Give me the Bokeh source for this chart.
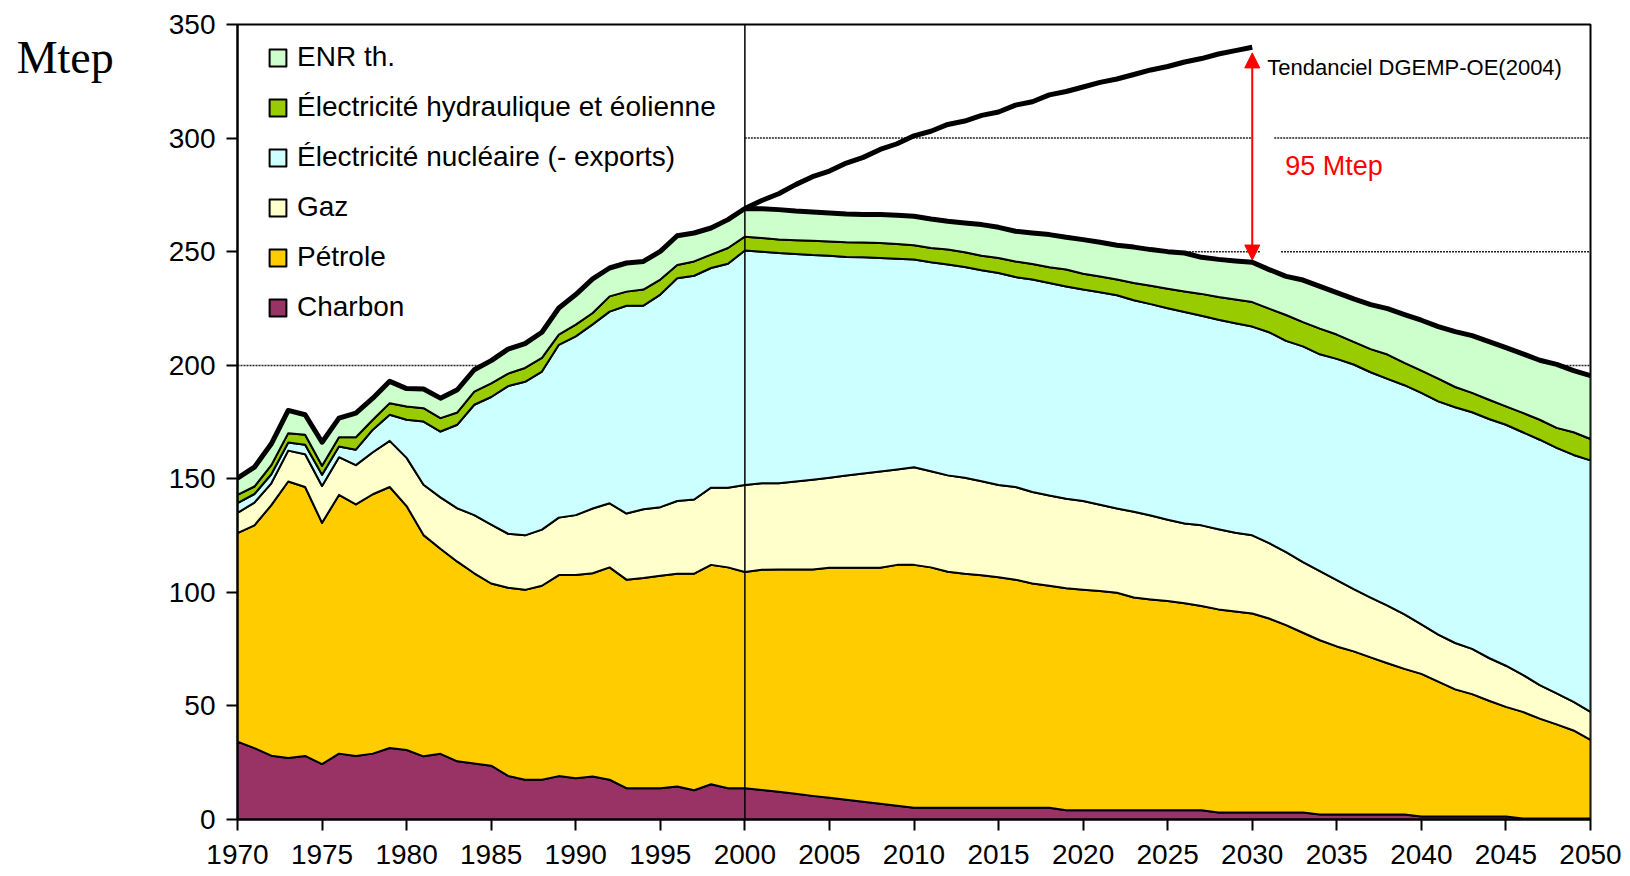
import numpy as np
from bokeh.plotting import figure
from bokeh.models import (Range1d, FixedTicker, Legend, LegendItem, Label, Span,
                          Arrow, NormalHead)
from bokeh.embed import file_html
from bokeh.resources import INLINE

# ---------------- data (Mtep) ----------------
years = list(range(1970, 2051))

charbon = [34.3, 31.4, 28.1, 27.1, 28.0, 24.4, 29.0, 28.0, 29.0, 31.5,
           30.6, 27.8, 28.9, 25.6, 24.7, 23.7, 19.2, 17.5, 17.5, 19.1,
           18.2, 18.9, 17.5, 13.8, 13.8, 13.8, 14.5, 12.9, 15.5, 13.8,
           13.8, 13.0, 12.2, 11.3, 10.4, 9.6, 8.7, 7.8, 6.9, 6.1,
           5.2, 5.2, 5.2, 5.2, 5.2, 5.2, 5.2, 5.2, 5.2, 4.1,
           4.1, 4.1, 4.1, 4.1, 4.1, 4.1, 4.1, 4.1, 3.1, 3.1,
           3.1, 3.1, 3.1, 3.1, 2.2, 2.2, 2.2, 2.2, 2.2, 2.2,
           1.3, 1.3, 1.3, 1.3, 1.3, 1.3, 0.4, 0.4, 0.4, 0.4, 0.4]

petrole = [91.8, 98.1, 110.3, 121.7, 118.4, 106.2, 113.9, 110.7, 114.2, 114.9,
           107.4, 97.4, 90.3, 87.9, 83.7, 80.2, 82.8, 83.6, 85.4, 88.5,
           89.4, 89.5, 93.5, 91.8, 92.5, 93.5, 93.7, 95.3, 96.6, 97.2,
           95.2, 97.0, 97.9, 98.8, 99.7, 101.2, 102.1, 103.0, 103.9, 106.0,
           106.9, 105.8, 103.9, 103.0, 102.3, 101.4, 100.4, 98.7, 97.7, 97.7,
           97.1, 96.5, 95.7, 93.6, 92.8, 92.1, 91.1, 89.9, 89.4, 88.5,
           87.6, 85.4, 82.5, 79.1, 76.7, 74.0, 71.8, 69.2, 66.6, 64.1,
           62.8, 59.4, 56.0, 53.9, 51.0, 48.3, 47.0, 44.0, 41.5, 38.8, 34.7]

gaz = [8.9, 10.0, 9.6, 13.6, 14.4, 16.2, 16.6, 17.3, 18.5, 20.3,
       21.2, 22.2, 22.6, 23.5, 25.6, 25.9, 23.8, 24.0, 24.7, 25.3,
       26.4, 28.5, 28.2, 29.1, 30.3, 30.2, 32.0, 32.7, 34.0, 35.1,
       38.3, 38.0, 37.9, 38.7, 39.5, 39.7, 40.6, 41.5, 42.4, 42.0,
       43.0, 42.3, 42.4, 42.3, 41.4, 40.7, 40.8, 40.3, 39.7, 39.4,
       39.0, 38.0, 37.1, 37.8, 36.9, 35.8, 35.1, 35.5, 35.3, 34.6,
       34.4, 33.2, 32.1, 31.1, 30.4, 29.2, 27.4, 26.3, 25.4, 24.0,
       21.8, 20.7, 20.4, 19.9, 18.8, 18.1, 16.3, 14.8, 13.6, 12.6, 12.3]

nucleaire = [4.3, 3.8, 4.0, 3.6, 4.2, 5.0, 4.7, 6.8, 9.9, 11.5,
             16.8, 27.8, 29.0, 36.8, 48.6, 56.2, 65.0, 67.6, 69.6, 76.1,
             78.7, 81.1, 84.4, 91.5, 89.6, 93.6, 98.1, 98.5, 96.7, 98.6,
             103.2, 102.0, 101.4, 100.2, 98.9, 97.7, 96.2, 95.2, 94.0, 92.8,
             91.4, 92.0, 92.8, 92.7, 92.9, 93.3, 92.4, 93.5, 93.6, 93.5,
             93.1, 93.5, 93.9, 93.1, 93.1, 93.1, 93.1, 92.3, 92.2, 92.3,
             91.9, 92.8, 93.0, 95.0, 95.5, 97.4, 98.9, 99.2, 99.8, 100.9,
             101.9, 102.7, 103.8, 104.2, 105.2, 106.1, 106.8, 108.0, 108.1, 108.7, 110.7]

hydro = [3.6, 3.3, 4.0, 4.1, 4.4, 3.9, 4.1, 5.5, 4.4, 5.1,
         5.8, 5.9, 5.9, 5.4, 5.8, 6.0, 5.5, 6.1, 6.0, 4.5,
         5.2, 5.0, 6.7, 6.2, 7.1, 6.6, 5.8, 6.3, 5.9, 6.9,
         6.1, 6.0, 5.9, 6.0, 6.3, 6.3, 6.5, 6.5, 6.6, 6.5,
         6.3, 6.3, 6.6, 6.5, 6.4, 6.6, 6.9, 6.9, 6.9, 7.4,
         7.0, 7.0, 6.9, 7.6, 8.1, 8.6, 9.1, 9.6, 10.0, 10.4,
         10.8, 10.4, 11.4, 10.7, 11.3, 10.7, 10.0, 10.2, 10.7, 9.8,
         9.8, 10.0, 8.9, 8.5, 8.5, 8.1, 8.5, 8.8, 8.8, 10.0, 9.4]

enr = [7.4, 8.5, 9.4, 10.0, 8.8, 10.4, 8.4, 10.6, 9.5, 9.6,
       7.9, 8.4, 8.8, 10.0, 9.6, 10.0, 10.8, 10.7, 11.3, 11.7,
       13.2, 15.0, 12.5, 12.6, 12.4, 12.4, 12.9, 12.5, 11.7, 12.5,
       12.4, 12.9, 13.2, 12.9, 12.7, 12.5, 12.5, 12.4, 12.5, 12.6,
       12.8, 12.8, 12.5, 12.9, 13.7, 13.5, 13.3, 13.6, 14.4, 14.2,
       15.0, 15.0, 15.1, 15.8, 15.9, 16.3, 16.9, 16.1, 16.6, 17.0,
       17.5, 17.2, 17.0, 18.5, 18.6, 18.5, 18.9, 19.6, 20.2, 21.3,
       22.2, 22.9, 24.4, 25.2, 25.6, 25.8, 26.0, 26.2, 28.0, 27.1, 27.9]

trend_years = list(range(2000, 2031))
tendanciel = [269.0, 272.5, 275.5, 279.5, 283.0, 285.5, 289.0, 291.5, 295.0, 297.5,
              301.0, 303.0, 306.0, 307.5, 310.0, 311.5, 314.5, 316.0, 319.0, 320.5,
              322.5, 324.5, 326.0, 328.0, 330.0, 331.5, 333.5, 335.0, 337.0, 338.5,
              340.0]

series = [
    ("Charbon", charbon, "#993366"),
    ("Pétrole", petrole, "#FFCC00"),
    ("Gaz", gaz, "#FFFFCC"),
    ("Électricité nucléaire (- exports)", nucleaire, "#CCFFFF"),
    ("Électricité hydraulique et éolienne", hydro, "#99CC00"),
    ("ENR th.", enr, "#CCFFCC"),
]
y_ticks = list(range(0, 351, 50))
x_ticks = list(range(1970, 2051, 5))

FONT = "Liberation Sans"
GRID_COLOR = "#222222"

# ---------------- figure ----------------
p = figure(width=1624, height=876, output_backend="svg", toolbar_location=None,
           x_range=Range1d(1970, 2050), y_range=Range1d(0, 350),
           min_border_left=237, min_border_right=34, min_border_top=24,
           min_border_bottom=57)
p.background_fill_color = "white"
p.border_fill_color = "white"
p.outline_line_color = "black"
p.outline_line_width = 2

# dotted reference lines at 250 / 300 drawn only over the projection part (2000-2050),
# with the small break left around the red arrow, as in the original
p.multi_line(xs=[[2000, 2030], [2031.3, 2050], [2000, 2030.5], [2031.7, 2050]],
             ys=[[300, 300], [300, 300], [250, 250], [250, 250]],
             line_color=GRID_COLOR, line_width=1.5, line_dash="2 1")

# stacked areas as outlined patches
x_arr = np.array(years, dtype=float)
bottom = np.zeros(len(years))
renderers = {}
for name, vals, col in series:
    top = bottom + np.array(vals)
    xs = np.concatenate([x_arr, x_arr[::-1]])
    ys = np.concatenate([top, bottom[::-1]])
    r = p.patch(xs, ys, fill_color=col, line_color="black", line_width=2,
                line_join="round")
    renderers[name] = r
    bottom = top
total = bottom

# total line (thick)
p.line(x_arr, total, line_color="black", line_width=5, line_join="round")
# trend line
p.line(trend_years, tendanciel, line_color="black", line_width=5, line_join="round")

# vertical line at 2000
p.add_layout(Span(location=2000, dimension="height", line_color="black", line_width=1.5))

# red double arrow at 2030
i2030 = years.index(2030)
j2030 = trend_years.index(2030)
p.add_layout(Arrow(x_start=2030, y_start=total[i2030] + 1.0,
                   x_end=2030, y_end=tendanciel[j2030] - 2.5,
                   line_color="red", line_width=2,
                   start=NormalHead(size=15, fill_color="red", line_color="red", line_width=1),
                   end=NormalHead(size=15, fill_color="red", line_color="red", line_width=1)))

p.add_layout(Label(x=2030, y=331, x_offset=15, text="Tendanciel DGEMP-OE(2004)",
                   text_font=FONT, text_font_size="22px", text_color="black",
                   text_baseline="alphabetic"))
p.add_layout(Label(x=2030, y=287.5, x_offset=33, text="95 Mtep",
                   text_font=FONT, text_font_size="27px", text_color="red",
                   text_baseline="alphabetic"))

# axes
p.xaxis.ticker = FixedTicker(ticks=x_ticks)
p.yaxis.ticker = FixedTicker(ticks=y_ticks)
for ax in (p.xaxis, p.yaxis):
    ax.axis_line_width = 2
    ax.axis_line_color = "black"
    ax.major_tick_line_color = "black"
    ax.major_tick_line_width = 2
    ax.minor_tick_line_color = None
    ax.major_label_text_font = FONT
    ax.major_label_text_font_size = "28px"
    ax.major_label_text_color = "black"
    ax.major_tick_in = 0
    ax.major_tick_out = 11
p.xaxis.major_label_standoff = 14
p.yaxis.major_label_standoff = 11

# unit label "Mtep" as horizontal axis label at the top of the y axis
p.yaxis.axis_label = "\nMtep"
p.yaxis.axis_label_orientation = "horizontal"
p.yaxis.axis_label_text_font = "Liberation Serif"
p.yaxis.axis_label_text_font_size = "46px"
p.yaxis.axis_label_text_font_style = "normal"
p.yaxis.axis_label_text_color = "black"
p.yaxis.axis_label_text_line_height = 1.3
p.yaxis.axis_label_standoff = 52
try:
    p.yaxis.axis_label_align = "end"
except Exception:
    pass

# only the 200 gridline runs across the whole width
p.xgrid.grid_line_color = None
p.ygrid.ticker = FixedTicker(ticks=[200])
p.ygrid.grid_line_color = GRID_COLOR
p.ygrid.grid_line_width = 1.5
p.ygrid.grid_line_dash = "2 1"

# legend (transparent, no frame)
order = ["ENR th.", "Électricité hydraulique et éolienne",
         "Électricité nucléaire (- exports)", "Gaz", "Pétrole", "Charbon"]
legend = Legend(items=[LegendItem(label=n, renderers=[renderers[n]]) for n in order],
                location=(30, 496), padding=10, spacing=18, label_height=32,
                glyph_height=21, glyph_width=21, label_standoff=9,
                label_text_font=FONT, label_text_font_size="28px",
                label_text_color="black",
                border_line_color=None, background_fill_alpha=0.0)
p.add_layout(legend)

open("out.html", "w").write(file_html(p, INLINE))
